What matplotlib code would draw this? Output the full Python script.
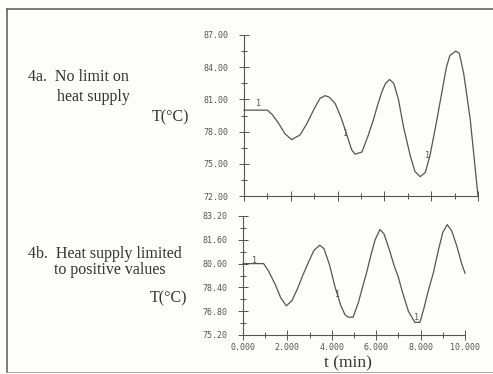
import matplotlib.pyplot as plt
from matplotlib.ticker import MultipleLocator, FormatStrFormatter
from matplotlib.lines import Line2D

# 4a: no limit on heat supply
t_a = [0, 1.0, 1.2, 1.47, 1.75, 2.04, 2.4, 2.7, 2.97, 3.25, 3.47, 3.65, 3.9,
       4.15, 4.35, 4.6, 4.75, 5.04, 5.3, 5.53, 5.7, 5.89, 6.05, 6.22, 6.4,
       6.6, 6.82, 7.1, 7.3, 7.53, 7.75, 7.95, 8.2, 8.45, 8.65, 8.8, 9.05,
       9.2, 9.39, 9.67, 10.0]
T_a = [80, 80, 79.6, 78.8, 77.8, 77.25, 77.7, 78.8, 80.0, 81.1, 81.35, 81.2,
       80.6, 79.3, 78.0, 76.3, 75.9, 76.1, 77.6, 79.1, 80.4, 81.7, 82.5, 82.85,
       82.5, 81.0, 78.4, 75.8, 74.3, 73.8, 74.2, 75.8, 78.6, 81.6, 84.0, 85.1,
       85.5, 85.3, 83.4, 79.1, 72.0]

# 4b: heat supply limited to positive values
t_b = [0, 0.93, 1.15, 1.45, 1.7, 1.95, 2.2, 2.45, 2.7, 2.95, 3.2, 3.46, 3.65,
       3.9, 4.14, 4.4, 4.6, 4.74, 4.96, 5.2, 5.4, 5.56, 5.75, 5.95, 6.17,
       6.35, 6.6, 6.8, 6.99, 7.2, 7.45, 7.74, 7.97, 8.15, 8.35, 8.57, 8.8,
       9.0, 9.2, 9.4, 9.62, 9.85, 10.0]
T_b = [80, 80, 79.5, 78.6, 77.7, 77.16, 77.5, 78.3, 79.24, 80.1, 80.9, 81.24,
       81.0, 79.9, 78.46, 77.2, 76.55, 76.4, 76.4, 77.4, 78.5, 79.35, 80.5,
       81.6, 82.29, 82.0, 80.9, 79.9, 79.12, 78.0, 76.8, 76.05, 76.05, 77.0,
       78.2, 79.35, 80.9, 82.1, 82.62, 82.2, 81.24, 80.0, 79.35]

# "1" curve markers
mark_a = [(0.61, 80.6), (4.35, 77.8), (7.86, 75.8)]
mark_b = [(0.53, 80.24), (4.24, 77.9), (7.82, 76.4)]

ink = "#555555"
serif = "Liberation Serif"
mono = "DejaVu Sans Mono"

fig = plt.figure(figsize=(4.93, 3.74), dpi=100)
fig.patch.set_facecolor("#fdfdfa")

# page border
fig.add_artist(Line2D([7/493, 7/493], [2/374, 365/374], color="#666666", lw=1.2))
fig.add_artist(Line2D([7/493, 1.0], [365/374, 365/374], color="#666666", lw=1.2))
fig.add_artist(Line2D([7/493, 1.0], [2/374, 2/374], color="#999999", lw=0.6))

ax1 = fig.add_axes([244/493, 1 - 196/374, 234/493, 161/374])
ax2 = fig.add_axes([243/493, 1 - 335/374, 222/493, 119/374])


def style(ax, ymin, ymax, ystep, labels_x):
    ax.set_facecolor("none")
    for s in ["top", "right"]:
        ax.spines[s].set_visible(False)
    for s in ["left", "bottom"]:
        ax.spines[s].set_color(ink)
        ax.spines[s].set_linewidth(0.8)
    ax.set_xlim(0, 10)
    ax.set_ylim(ymin, ymax)
    ax.xaxis.set_major_locator(MultipleLocator(2))
    ax.xaxis.set_minor_locator(MultipleLocator(1))
    ax.yaxis.set_major_locator(MultipleLocator(ystep))
    ax.yaxis.set_minor_locator(MultipleLocator(ystep / 2))
    ax.yaxis.set_major_formatter(FormatStrFormatter("%.2f"))
    ax.xaxis.set_major_formatter(FormatStrFormatter("%.3f"))
    ax.tick_params(which="both", direction="inout", color=ink, width=0.7,
                   labelsize=6, labelcolor="#555555", pad=2)
    ax.tick_params(which="major", length=7)
    ax.tick_params(which="minor", length=5)
    ax.tick_params(axis="y", pad=8)
    for lab in ax.get_xticklabels() + ax.get_yticklabels():
        lab.set_family(mono)
    if not labels_x:
        ax.tick_params(axis="x", labelbottom=False)


style(ax1, 72, 87, 3, False)
style(ax2, 75.2, 83.2, 1.6, True)

ax1.plot(t_a, T_a, color=ink, lw=0.9, clip_on=False)
ax2.plot(t_b, T_b, color=ink, lw=0.9, clip_on=False)
for x, y in mark_a:
    ax1.text(x, y, "1", fontsize=6, color=ink, ha="center", va="center", family=mono)
for x, y in mark_b:
    ax2.text(x, y, "1", fontsize=6, color=ink, ha="center", va="center", family=mono)

txt = dict(family=serif, fontsize=11.5, color="#333333", va="center")
fig.text(28/493, 1 - 77/374, "4a.  No limit on", **txt)
fig.text(57/493, 1 - 97/374, "heat supply", **txt)
fig.text(152/493, 1 - 117/374, "T(\u00b0C)", **txt)
fig.text(28/493, 1 - 254/374, "4b.  Heat supply limited", **txt)
fig.text(54/493, 1 - 270/374, "to positive values", **txt)
fig.text(150/493, 1 - 298/374, "T(\u00b0C)", **txt)
fig.text(348/493, 1 - 363/374, "t (min)", family=serif, fontsize=12.5,
         color="#333333", ha="center", va="center")

fig.savefig("out.png", dpi=100, facecolor=fig.get_facecolor())
